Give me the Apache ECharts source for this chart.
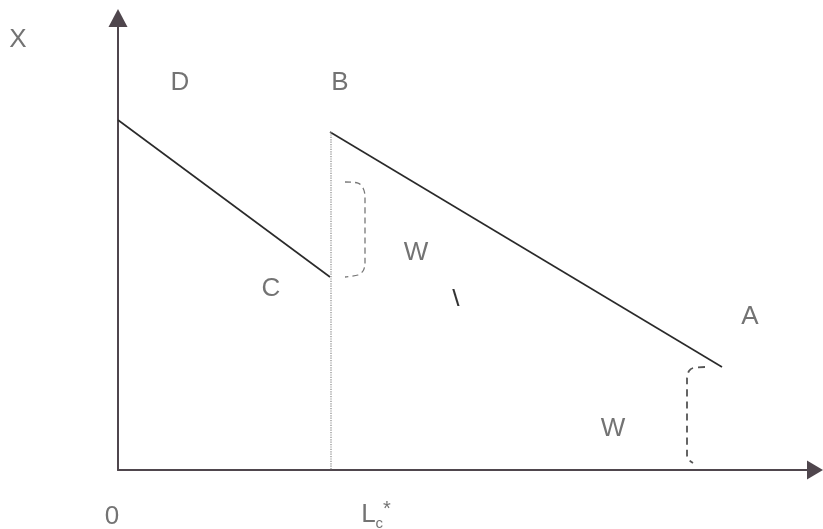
<!DOCTYPE html>
<html>
<head>
<meta charset="utf-8">
<script src="https://cdn.jsdelivr.net/npm/echarts@6/dist/echarts.min.js"></script>
<style>html,body{margin:0;padding:0;background:#fff}#c{width:823px;height:529px}</style>
</head>
<body>
<div id="c"></div>
<script>
// Diagram geometry in data units
const demandLeft = [[0, 350], [212, 193]];      // D -> C
const demandRight = [[212, 338], [604, 103]];   // B -> A
const lcLine = [[213, 338], [213, 0]];          // dotted L_c*
const bracketW1 = [[227, 288], [240, 287], [245, 282], [247, 274], [247, 206], [245, 199], [240, 195], [227, 193]];
const bracketW2 = [[587, 103], [575, 102], [571, 99], [569, 92], [569, 15], [571, 10], [575, 7]];
const labelPoints = [
  [-100, 430, 'X'],
  [62, 387, 'D'],
  [222, 387, 'B'],
  [153, 181, 'C'],
  [298, 217, 'W'],
  [632, 153, 'A'],
  [495, 41, 'W'],
  [-6, -47, '0'],
  [258, -45, 'Lc*']
];
const stray = [[338, 171, '\\']];

const chart = echarts.init(document.getElementById('c'), null, {renderer: 'canvas'});
const textColor = '#505050';
const lineColor = '#2a2a2a';
const font = 'Liberation Sans';
chart.setOption({
  animation: false,
  grid: {left: 118, right: 8, top: 18, bottom: 59},
  xAxis: {
    type: 'value', min: 0, max: 697,
    axisLine: {show: true, symbol: ['none', 'triangle'], symbolSize: [19, 16], lineStyle: {color: '#4f464d', width: 2}},
    axisTick: {show: false}, axisLabel: {show: false}, splitLine: {show: false}
  },
  yAxis: {
    type: 'value', min: 0, max: 452,
    axisLine: {show: true, symbol: ['none', 'triangle'], symbolSize: [19, 18], lineStyle: {color: '#4f464d', width: 2}},
    axisTick: {show: false}, axisLabel: {show: false}, splitLine: {show: false}
  },
  series: [
    {type: 'line', data: demandLeft, symbol: 'none', lineStyle: {color: lineColor, width: 1.6}},
    {type: 'line', data: demandRight, symbol: 'none', lineStyle: {color: lineColor, width: 1.6}},
    {type: 'line', data: lcLine, symbol: 'none', lineStyle: {color: '#888', width: 1.2, type: 'dotted'}},
    {type: 'line', data: bracketW1, symbol: 'none', smooth: 0.3, lineStyle: {color: '#777', width: 1.3, type: [6, 4]}},
    {type: 'line', data: bracketW2, symbol: 'none', smooth: 0.3, lineStyle: {color: '#555', width: 1.8, type: [7, 5]}},
    {
      type: 'scatter', clip: false, symbolSize: 1, silent: true, itemStyle: {color: 'rgba(0,0,0,0)'},
      data: labelPoints.map(p => ({value: [p[0], p[1]], name: p[2]})),
      label: {
        show: true, position: 'inside', color: textColor, fontSize: 26,
        fontFamily: font,
        formatter: p => p.name === 'Lc*' ? '{a|L}{b|c}{s|*}' : p.name,
        rich: {
          a: {fontSize: 26, color: textColor, fontFamily: font},
          b: {fontSize: 15, color: textColor, verticalAlign: 'bottom', fontFamily: font, padding: [14, 0, 0, 0]},
          s: {fontSize: 20, color: textColor, verticalAlign: 'top', fontFamily: font, padding: [0, 0, 12, 0]}
        }
      }
    },
    {
      type: 'scatter', clip: false, symbolSize: 1, silent: true, itemStyle: {color: 'rgba(0,0,0,0)'},
      data: stray.map(p => ({value: [p[0], p[1]], name: p[2]})),
      label: {show: true, position: 'inside', color: '#000', fontSize: 20, fontWeight: 'bold', fontFamily: 'DejaVu Serif', formatter: p => p.name}
    }
  ]
});
</script>
</body>
</html>
